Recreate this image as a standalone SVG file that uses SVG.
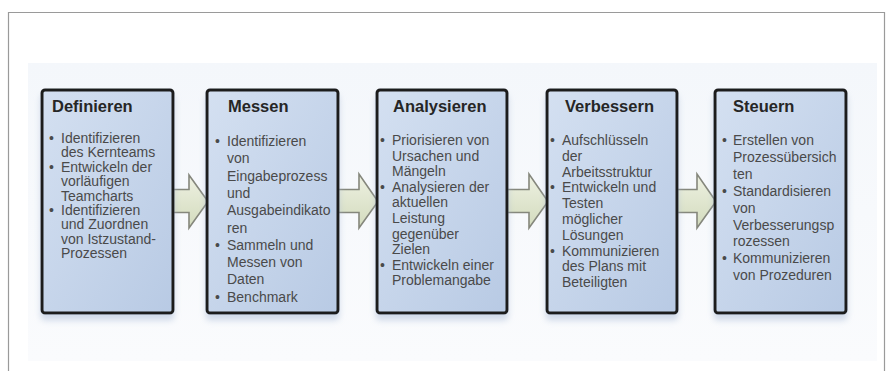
<svg xmlns="http://www.w3.org/2000/svg" width="892" height="371" viewBox="0 0 892 371">
  <defs>
    <linearGradient id="boxFill" x1="0" y1="0" x2="1" y2="1">
      <stop offset="0" stop-color="#d4e0f1"/>
      <stop offset="1" stop-color="#b8cae4"/>
    </linearGradient>
    <linearGradient id="arrowFill" x1="0" y1="0" x2="0" y2="1">
      <stop offset="0" stop-color="#eef1e2"/>
      <stop offset="1" stop-color="#d3dbbd"/>
    </linearGradient>
    <linearGradient id="bgFill" x1="0" y1="0" x2="0" y2="1">
      <stop offset="0" stop-color="#f4f7fb"/>
      <stop offset="1" stop-color="#fafbfd"/>
    </linearGradient>
    <filter id="shadow" x="-10%" y="-10%" width="120%" height="125%">
      <feGaussianBlur in="SourceAlpha" stdDeviation="3"/>
      <feOffset dx="0" dy="6" result="b"/>
      <feFlood flood-color="#a8bad6" flood-opacity="0.5"/>
      <feComposite in2="b" operator="in"/>
      <feMerge><feMergeNode/><feMergeNode in="SourceGraphic"/></feMerge>
    </filter>
  </defs>
  <style>
    .box { fill: url(#boxFill); stroke: #1f1f1f; stroke-width: 3; }
    .title { font-family: "Liberation Sans", Arial, sans-serif; font-size: 16.5px; font-weight: bold; fill: #262626; }
    .txt { font-family: "Liberation Sans", Arial, sans-serif; font-size: 14px; fill: #4a4a4a; }
    .arrow { fill: url(#arrowFill); stroke: #85877c; stroke-width: 1.6; stroke-linejoin: miter; }
  </style>

  <rect x="0" y="0" width="892" height="371" fill="#ffffff"/>
  <path d="M8.5,380 V12.5 H884.5 V380" fill="none" stroke="#9a9a9a" stroke-width="1.2"/>
  <rect x="28" y="63" width="849" height="298" fill="url(#bgFill)"/>

  <g id="connectors">
    <path class="arrow" d="M170,189.5 H189 V175 L208,201.5 L189,228 V212.5 H170 Z"/>
    <path class="arrow" d="M335,189.5 H359 V174 L378,201.5 L359,228 V212.5 H335 Z"/>
    <path class="arrow" d="M504,189.5 H529 V174 L548,201.5 L529,228 V212.5 H504 Z"/>
    <path class="arrow" d="M674,189.5 H697 V174 L716,201.5 L697,228 V212.5 H674 Z"/>
  </g>

  <g id="definieren">
    <rect class="box" x="42" y="90" width="131" height="223" rx="3" filter="url(#shadow)"/>
    <text class="title" x="52" y="112">Definieren</text>
    <text class="txt">
      <tspan x="49" y="143">•</tspan><tspan x="61" y="143">Identifizieren</tspan>
      <tspan x="61" y="157.4">des Kernteams</tspan>
      <tspan x="49" y="171.8">•</tspan><tspan x="61" y="171.8">Entwickeln der</tspan>
      <tspan x="61" y="186.2">vorläufigen</tspan>
      <tspan x="61" y="200.6">Teamcharts</tspan>
      <tspan x="49" y="215">•</tspan><tspan x="61" y="215">Identifizieren</tspan>
      <tspan x="61" y="229.4">und Zuordnen</tspan>
      <tspan x="61" y="243.8">von Istzustand-</tspan>
      <tspan x="61" y="258.2">Prozessen</tspan>
    </text>
  </g>

  <g id="messen">
    <rect class="box" x="207" y="90" width="131" height="223" rx="3" filter="url(#shadow)"/>
    <text class="title" x="228" y="112">Messen</text>
    <text class="txt">
      <tspan x="215" y="146">•</tspan><tspan x="227" y="146">Identifizieren</tspan>
      <tspan x="227" y="163.3">von</tspan>
      <tspan x="227" y="180.6">Eingabeprozess</tspan>
      <tspan x="227" y="197.9">und</tspan>
      <tspan x="227" y="215.2">Ausgabeindikato</tspan>
      <tspan x="227" y="232.5">ren</tspan>
      <tspan x="215" y="249.8">•</tspan><tspan x="227" y="249.8">Sammeln und</tspan>
      <tspan x="227" y="267.1">Messen von</tspan>
      <tspan x="227" y="284.4">Daten</tspan>
      <tspan x="215" y="301.7">•</tspan><tspan x="227" y="301.7">Benchmark</tspan>
    </text>
  </g>

  <g id="analysieren">
    <rect class="box" x="377" y="90" width="130" height="223" rx="3" filter="url(#shadow)"/>
    <text class="title" x="393" y="112">Analysieren</text>
    <text class="txt">
      <tspan x="380" y="145">•</tspan><tspan x="392" y="145">Priorisieren von</tspan>
      <tspan x="392" y="160.6">Ursachen und</tspan>
      <tspan x="392" y="176.2">Mängeln</tspan>
      <tspan x="380" y="191.8">•</tspan><tspan x="392" y="191.8">Analysieren der</tspan>
      <tspan x="392" y="207.4">aktuellen</tspan>
      <tspan x="392" y="223">Leistung</tspan>
      <tspan x="392" y="238.6">gegenüber</tspan>
      <tspan x="392" y="254.2">Zielen</tspan>
      <tspan x="380" y="269.8">•</tspan><tspan x="392" y="269.8">Entwickeln einer</tspan>
      <tspan x="392" y="285.4">Problemangabe</tspan>
    </text>
  </g>

  <g id="verbessern">
    <rect class="box" x="547" y="90" width="130" height="223" rx="3" filter="url(#shadow)"/>
    <text class="title" x="565" y="112">Verbessern</text>
    <text class="txt">
      <tspan x="550" y="145">•</tspan><tspan x="562" y="145">Aufschlüsseln</tspan>
      <tspan x="562" y="160.8">der</tspan>
      <tspan x="562" y="176.6">Arbeitsstruktur</tspan>
      <tspan x="550" y="192.4">•</tspan><tspan x="562" y="192.4">Entwickeln und</tspan>
      <tspan x="562" y="208.2">Testen</tspan>
      <tspan x="562" y="224">möglicher</tspan>
      <tspan x="562" y="239.8">Lösungen</tspan>
      <tspan x="550" y="255.6">•</tspan><tspan x="562" y="255.6">Kommunizieren</tspan>
      <tspan x="562" y="271.4">des Plans mit</tspan>
      <tspan x="562" y="287.2">Beteiligten</tspan>
    </text>
  </g>

  <g id="steuern">
    <rect class="box" x="715" y="90" width="131" height="223" rx="3" filter="url(#shadow)"/>
    <text class="title" x="733" y="112">Steuern</text>
    <text class="txt">
      <tspan x="722" y="145">•</tspan><tspan x="733" y="145">Erstellen von</tspan>
      <tspan x="733" y="161.9">Prozessübersich</tspan>
      <tspan x="733" y="178.8">ten</tspan>
      <tspan x="722" y="195.7">•</tspan><tspan x="733" y="195.7">Standardisieren</tspan>
      <tspan x="733" y="212.6">von</tspan>
      <tspan x="733" y="229.5">Verbesserungsp</tspan>
      <tspan x="733" y="246.4">rozessen</tspan>
      <tspan x="722" y="263.3">•</tspan><tspan x="733" y="263.3">Kommunizieren</tspan>
      <tspan x="733" y="280.2">von Prozeduren</tspan>
    </text>
  </g>
</svg>
